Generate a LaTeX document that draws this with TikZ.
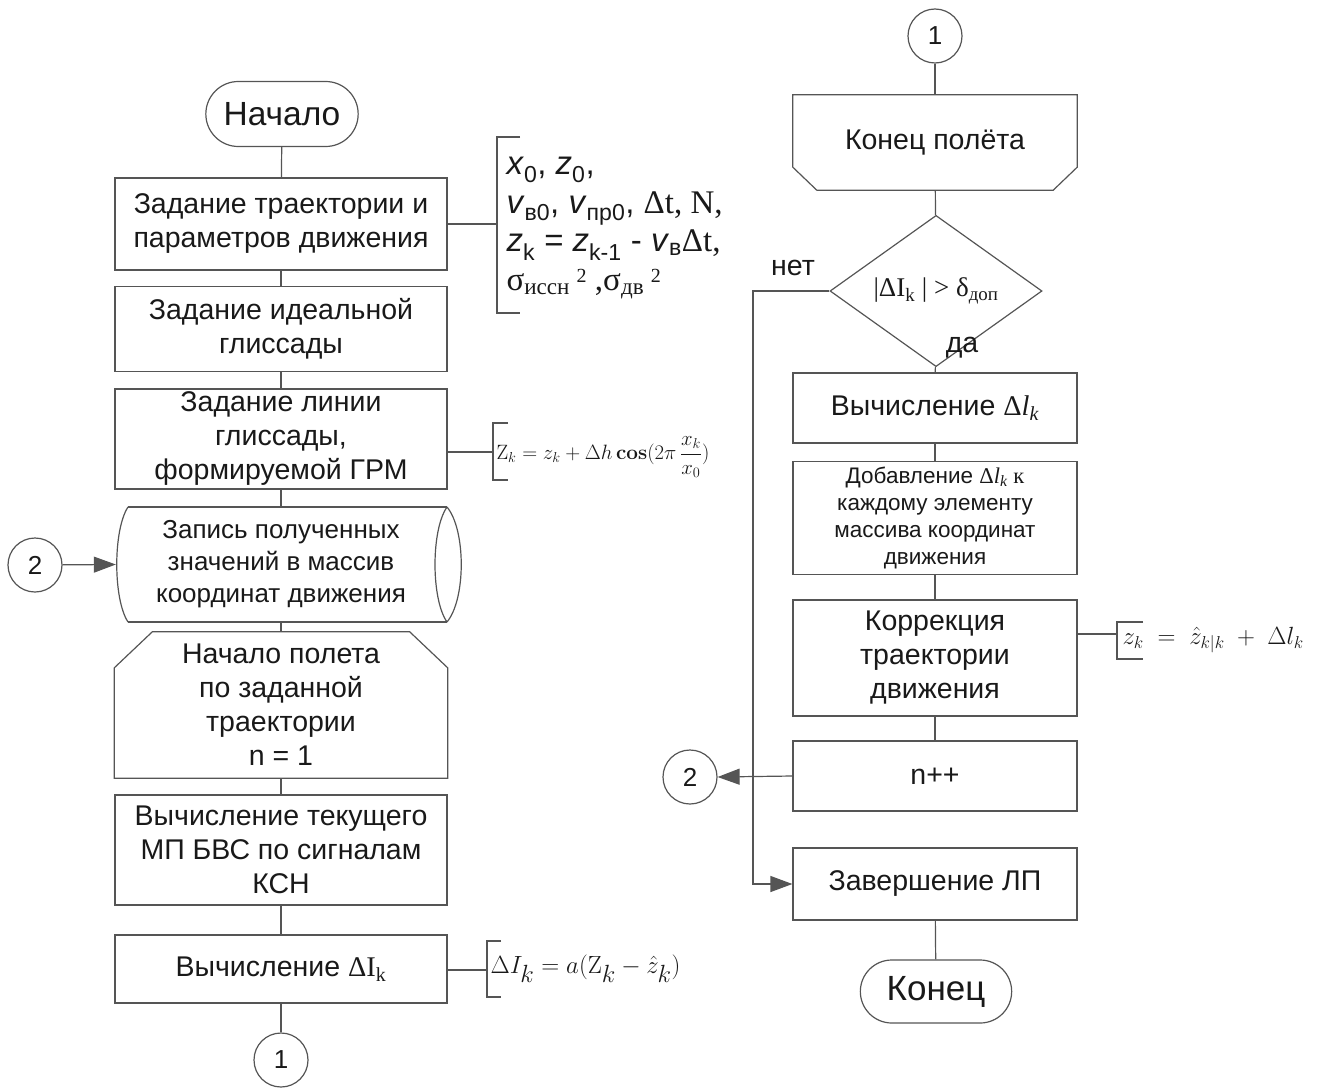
\documentclass[tikz,border=0pt]{standalone}
\usepackage{amsmath}
\usepackage[no-math]{fontspec}
\setmainfont{Liberation Sans}
\newfontfamily\tms{Liberation Serif}
\usetikzlibrary{shapes.geometric,shapes.misc,arrows.meta}

\definecolor{linegray}{RGB}{85,85,85}
\definecolor{txt}{RGB}{25,25,25}

\begin{document}
\begin{tikzpicture}[
    x=1pt, y=-1pt,
    every node/.style={text=txt, font=\fontsize{28.5}{34}\selectfont},
    line/.style={draw=linegray, line width=1.2pt},
    arrow/.style={line, -{Triangle[length=22pt,width=16pt]}},
    box/.style={line, rectangle, align=center, inner sep=2pt},
    lbox/.style={box, minimum width=332pt},
    rbox/.style={box, minimum width=284pt},
    frame/.style={rectangle, align=center, inner sep=0pt},
    term/.style={line, rounded rectangle, minimum width=159pt, minimum height=65pt, font=\fontsize{33.5}{38}\selectfont},
    conn/.style={line, circle, minimum size=54pt, inner sep=0pt, font=\fontsize{26}{30}\selectfont},
    decision/.style={line, diamond, minimum width=212pt, minimum height=94pt, inner sep=0pt},
    formula/.style={anchor=west, font=\fontsize{22}{26}\selectfont}
]
\useasboundingbox (0,0) rectangle (1319,1089);

% left column
\node[term] (start) at (282,114) {Начало};
\node[lbox, minimum height=92pt] (task) at (281,224) {Задание траектории и\\параметров движения};
\node[lbox, minimum height=85pt] (ideal) at (281,329) {Задание идеальной\\глиссады};
\node[lbox, minimum height=100pt] (glide) at (281,439) {Задание линии\\глиссады,\\формируемой ГРМ};
\node[frame, minimum width=328pt, minimum height=115pt, font=\fontsize{26}{32}\selectfont] (store) at (281,564.5) {Запись полученных\\значений в массив\\координат движения};
\draw[line] (128,507) -- (447,507) (128,622) -- (447,622);
\draw[line] (128,507) .. controls (113,530) and (113,599) .. (128,622);
\draw[line] (447,507) .. controls (466,530) and (466,599) .. (447,622);
\draw[line] (447,507) .. controls (431,530) and (431,599) .. (447,622);
\node[frame, minimum width=333pt, minimum height=146pt] (fly) at (281,705) {Начало полета\\по заданной\\траектории\\n = 1};
\draw[line] (fly.south west) -- ([yshift=-36pt]fly.north west) -- ([xshift=38pt]fly.north west)
  -- ([xshift=-38pt]fly.north east) -- ([yshift=-36pt]fly.north east) -- (fly.south east) -- cycle;
\node[lbox, minimum height=110pt] (calc) at (281,850) {Вычисление текущего\\МП БВС по сигналам\\КСН};
\node[lbox, minimum height=68pt] (dI) at (281,969) {Вычисление {\tms ΔI\textsubscript{k}}};
\node[conn] (c1) at (281,1060) {1};
\node[conn] (c2) at (35,565) {2};

\draw[line] (start) -- (task);
\draw[line] (task) -- (ideal);
\draw[line] (ideal) -- (glide);
\draw[line] (glide) -- (store);
\draw[line] (store) -- (fly);
\draw[line] (fly) -- (calc);
\draw[line] (calc) -- (dI);
\draw[line] (dI) -- (c1);
\draw[arrow] (c2) -- ([xshift=-1pt]store.west);

% annotations, left
\coordinate (b1) at (497,224);
\draw[line] (task.east) -- (b1);
\draw[line] (520,137) -- (497,137) -- (497,313) -- (520,313);
\node[anchor=west, align=left, font=\fontsize{33}{38.5}\selectfont] (par) at (503,228)
  {\textit{x}\textsubscript{0}, \textit{z}\textsubscript{0},\\
   \textit{v}\textsubscript{в0}, \textit{v}\textsubscript{пр0}, {\tms Δt, N,}\\
   \textit{z}\textsubscript{k} = \textit{z}\textsubscript{k-1} - \textit{v}\textsubscript{в}{\tms Δt,}\\
   {\tms σ\textsubscript{иссн}\raisebox{8pt}{\fontsize{20}{20}\selectfont\,\,2} ,σ\textsubscript{дв}\raisebox{8pt}{\fontsize{20}{20}\selectfont\,\,2}}};

\coordinate (b2) at (493,452);
\draw[line] (glide.east |- b2) -- (b2);
\draw[line] (508,423) -- (493,423) -- (493,480) -- (508,480);
\node[formula] (f2) at (493,457) {$\mathrm{Z}_k = z_k + \Delta h\,\mathbf{cos}(2\pi\,\dfrac{x_k}{x_0})$};

\coordinate (b3) at (487,970);
\draw[line] (dI.east |- b3) -- (b3);
\draw[line] (501,941) -- (487,941) -- (487,997) -- (501,997);
\node[formula, font=\fontsize{33}{36}\selectfont] (f3) at (487,969) {$\Delta I_k = a(\mathrm{Z}_k - \hat{z}_k)$};

% right column
\node[conn] (c1r) at (935,36) {1};
\node[frame, minimum width=284pt, minimum height=95pt] (endfly) at (935,142.5) {Конец полёта};
\draw[line] (endfly.north west) -- ([yshift=23pt]endfly.south west) -- ([xshift=24pt]endfly.south west)
  -- ([xshift=-24pt]endfly.south east) -- ([yshift=23pt]endfly.south east) -- (endfly.north east) -- cycle;
\node[decision, font=\fontsize{27}{30}\selectfont] (dec) at (936,291) {\tms |ΔI\textsubscript{k} | > δ\textsubscript{доп}};
\node[rbox, minimum height=70pt] (dl) at (935,408) {Вычисление {\tms Δ\textit{l}\textsubscript{\textit{k}}}};
\node[rbox, minimum height=113pt, font=\fontsize{22.5}{27.3}\selectfont] (add) at (935,518) {Добавление {\tms Δ\textit{l}\textsubscript{\textit{k}} к}\\каждому элементу\\массива координат\\движения};
\node[rbox, minimum height=116pt] (corr) at (935,658) {Коррекция\\траектории\\движения};
\node[rbox, minimum height=70pt] (inc) at (935,776) {n++};
\node[rbox, minimum height=72pt] (fin) at (935,884) {Завершение ЛП};
\node[term, minimum width=158pt, minimum height=63pt, font=\fontsize{35}{40}\selectfont] (stop) at (936,991.5) {Конец};
\node[conn] (c2r) at (690,777) {2};

\draw[line] (c1r) -- (endfly);
\draw[line] (endfly) -- (dec);
\draw[line] (dec) -- (dl);
\draw[line] (dl) -- (add);
\draw[line] (add) -- (corr);
\draw[line] (corr) -- (inc);
\draw[line] (fin) -- (stop);
\coordinate (no) at (753,291);
\draw[arrow] (dec.west) -- (no) |- (fin.west);
\draw[arrow] (inc.west) -- (c2r.east);
\node (nolab) at (793,268) {нет};
\node (yeslab) at (962,348) {да};

% annotation, right
\coordinate (b4) at (1117,634);
\draw[line] (corr.east |- b4) -- (b4);
\draw[line] (1143,622) -- (1117,622) -- (1117,659) -- (1143,659);
\node[formula, font=\fontsize{27}{30}\selectfont] (f4) at (1119,640) {$z_k \;=\; \hat{z}_{k|k} \;+\; \Delta l_k$};
\end{tikzpicture}
\end{document}
